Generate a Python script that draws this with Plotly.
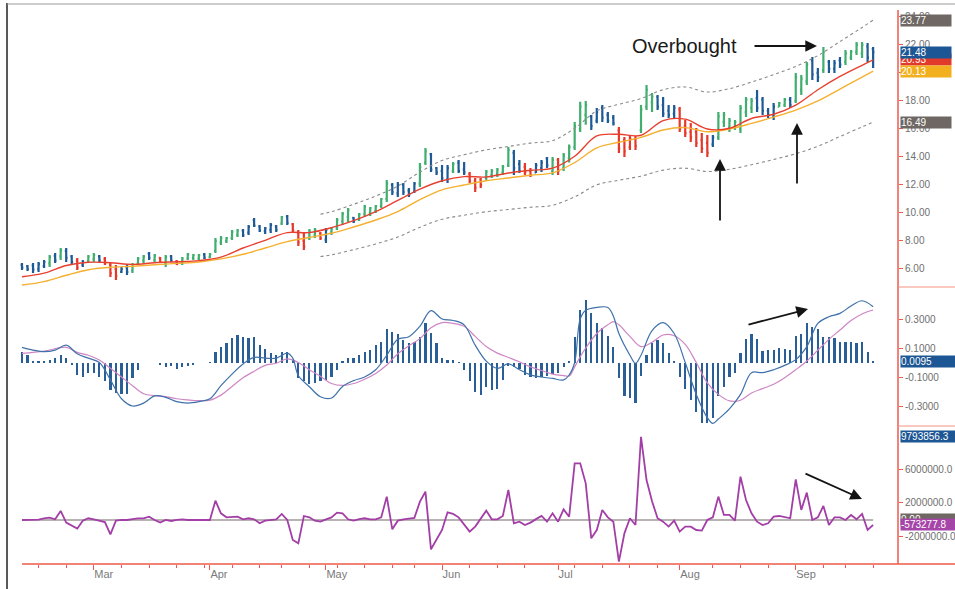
import plotly.graph_objects as go

W, H = 955, 589

# ---------------- data ----------------
month_labels = ["Mar", "Apr", "May", "Jun", "Jul", "Aug", "Sep"]
month_start_idx = [13, 34, 55, 76, 97, 119, 140]
week_start_idx = [3, 8, 18, 23, 28, 33, 38, 43, 47, 52, 57, 62, 67, 71, 81, 86, 91, 100,
                  105, 110, 115, 125, 130, 135, 145, 149, 154]

opens = [6.3, 6.2, 6.25, 6.0, 6.2, 6.4, 6.95, 6.9, 7.3, 6.9,
         6.6, 6.3, 6.55, 6.7, 6.9, 6.7, 6.3, 6.0, 5.8, 6.1,
         5.9, 6.4, 6.6, 7.1, 6.65, 6.8, 6.4, 6.9, 6.55, 6.4,
         6.75, 6.8, 6.75, 7.05, 6.85, 7.3, 7.9, 8.0, 8.2, 8.45,
         8.75, 8.6, 9.5, 9.05, 8.7, 8.8, 9.05, 9.25, 9.75, 9.2,
         8.6, 8.0, 8.2, 8.4, 8.55, 8.1, 8.6, 8.9, 9.4, 9.7,
         9.65, 9.5, 9.9, 10.0, 10.15, 10.5, 11.0, 12.0, 11.4, 12.0,
         11.6, 11.5, 12.1, 13.6, 14.2, 13.2, 13.0, 12.4, 13.0, 13.6,
         13.1, 12.8, 12.3, 12.4, 12.5, 12.7, 12.8, 12.9, 13.4, 14.3,
         13.5, 13.3, 13.0, 12.9, 13.2, 13.9, 13.0, 13.8, 13.2, 13.9,
         14.7, 16.0, 17.0, 16.9, 16.6, 17.5, 17.0, 16.8, 15.9, 15.2,
         14.7, 15.3, 15.9, 17.6, 17.9, 18.3, 17.7, 17.3, 17.1, 17.4,
         16.2, 15.8, 15.8, 15.2, 15.0, 14.9, 15.4, 16.5, 16.1, 16.1,
         16.0, 17.2, 17.5, 18.2, 18.1, 17.3, 16.9, 17.6, 17.7, 18.1,
         18.0, 18.8, 19.4, 20.9, 20.0, 20.2, 20.8, 20.3, 20.9, 20.8,
         21.1, 21.5, 21.4, 21.9, 21.7]
highs = [6.43, 6.29, 6.43, 6.5, 6.64, 7.0, 7.14, 7.5, 7.5, 7.0,
         6.79, 6.64, 7.0, 7.14, 7.0, 6.86, 6.43, 6.29, 6.14, 6.29,
         6.43, 6.86, 7.0, 7.21, 7.07, 6.86, 7.0, 7.0, 6.64, 6.86,
         7.14, 7.07, 7.07, 7.14, 7.14, 8.21, 8.36, 8.29, 8.79, 8.86,
         8.86, 9.14, 9.64, 9.14, 9.0, 9.29, 9.14, 9.79, 9.86, 9.29,
         8.79, 8.64, 8.86, 8.93, 8.64, 8.93, 9.0, 9.64, 10.07, 10.36,
         9.71, 10.0, 10.57, 10.43, 10.57, 11.07, 12.36, 12.14, 12.21, 12.14,
         11.79, 12.21, 13.57, 14.64, 14.29, 13.29, 13.43, 13.43, 13.64, 13.79,
         13.64, 12.93, 12.5, 12.5, 13.07, 13.14, 13.21, 13.43, 14.71, 14.5,
         13.79, 13.57, 13.21, 13.57, 13.79, 14.0, 14.0, 13.93, 14.29, 14.9,
         16.5, 17.95, 18.0, 17.0, 17.5, 17.71, 17.21, 17.0, 16.14, 15.43,
         15.57, 15.5, 17.71, 19.14, 18.57, 18.43, 18.29, 17.71, 17.71, 17.57,
         16.64, 16.43, 16.07, 15.71, 15.57, 15.57, 17.21, 17.21, 16.79, 16.64,
         17.71, 18.29, 18.21, 18.79, 18.29, 17.5, 17.86, 17.93, 18.21, 18.29,
         20.0, 19.86, 20.79, 21.14, 20.36, 21.86, 20.93, 20.93, 21.14, 21.64,
         21.64, 22.21, 22.21, 22.14, 21.86]
lows = [5.93, 5.86, 5.71, 5.79, 6.07, 6.14, 6.43, 6.64, 6.5, 6.29,
        5.93, 6.14, 6.43, 6.5, 6.5, 6.29, 5.43, 5.21, 5.71, 5.57,
        5.71, 6.29, 6.43, 6.64, 6.5, 6.43, 6.14, 6.5, 6.29, 6.29,
        6.64, 6.64, 6.64, 6.71, 6.79, 7.14, 7.71, 7.86, 8.07, 8.29,
        8.29, 8.43, 9.0, 8.64, 8.5, 8.57, 8.64, 9.14, 9.14, 8.64,
        7.64, 7.36, 8.07, 8.21, 8.07, 7.86, 8.43, 8.79, 9.14, 9.36,
        9.29, 9.43, 9.71, 9.79, 10.0, 10.36, 10.79, 11.29, 11.14, 11.29,
        11.14, 11.43, 11.86, 13.43, 12.93, 12.71, 12.21, 12.14, 12.86, 12.86,
        12.71, 12.14, 11.5, 11.79, 12.36, 12.5, 12.57, 12.71, 13.29, 12.71,
        12.86, 12.71, 12.57, 12.86, 12.93, 13.21, 12.71, 12.71, 13.0, 13.6,
        14.5, 15.79, 16.3, 15.93, 16.4, 16.5, 16.43, 16.25, 14.29, 14.0,
        14.5, 14.5, 15.71, 17.36, 17.21, 17.36, 16.86, 16.79, 16.79, 15.79,
        15.43, 15.07, 14.71, 14.29, 14.0, 14.71, 15.21, 16.14, 15.79, 15.93,
        15.71, 16.86, 17.14, 17.21, 17.0, 16.79, 16.64, 17.57, 17.57, 17.5,
        17.86, 18.43, 19.14, 19.5, 19.36, 20.0, 20.0, 20.0, 20.36, 20.57,
        20.93, 21.29, 21.07, 20.79, 20.36]
closes = [6.1, 6.0, 5.95, 6.35, 6.5, 6.85, 6.6, 7.35, 6.8, 6.5,
          6.1, 6.5, 6.9, 7.0, 6.6, 6.4, 5.7, 5.5, 6.0, 5.8,
          6.3, 6.75, 6.9, 6.8, 6.95, 6.5, 6.85, 6.6, 6.35, 6.75,
          7.05, 7.0, 7.0, 6.8, 7.05, 8.0, 8.2, 8.2, 8.65, 8.75,
          8.4, 9.0, 9.1, 8.75, 8.9, 9.15, 8.8, 9.7, 9.3, 8.75,
          7.9, 7.6, 8.7, 8.8, 8.2, 8.8, 8.9, 9.5, 9.95, 10.2,
          9.4, 9.9, 10.45, 10.35, 10.5, 11.0, 12.1, 11.5, 12.0, 11.5,
          11.3, 12.1, 13.3, 14.4, 13.1, 12.9, 12.5, 13.2, 13.5, 13.0,
          12.9, 12.3, 11.8, 12.0, 12.95, 13.0, 13.1, 13.3, 14.5, 13.2,
          13.0, 12.9, 12.7, 13.4, 13.6, 13.4, 13.8, 13.0, 14.1, 14.7,
          16.2, 17.6, 17.7, 16.2, 17.2, 16.8, 16.6, 16.4, 14.6, 14.4,
          15.3, 14.8, 17.4, 18.8, 18.3, 17.6, 17.1, 17.0, 17.5, 16.0,
          15.7, 15.4, 15.0, 14.6, 14.3, 15.4, 16.9, 17.0, 16.6, 16.5,
          17.5, 18.1, 18.0, 17.5, 17.3, 17.0, 17.6, 17.85, 18.1, 17.7,
          19.7, 19.6, 20.6, 19.9, 19.7, 21.5, 20.3, 20.7, 20.6, 21.4,
          21.5, 22.0, 22.0, 21.1, 21.48]
# impulse state of each bar: 1 = bullish, 0 = neutral, -1 = bearish
impulse = [0, 0, 0, 0, 0, 1, 0, 1, 0, 0,
           -1, 0, 1, 1, 0, -1, -1, -1, 0, 0,
           1, 1, 1, 0, 1, -1, 1, 0, -1, 1,
           1, 1, 1, 0, 1, 1, 1, 1, 1, 1,
           0, 0, 0, 0, 0, 0, 0, 1, 0, -1,
           -1, -1, 1, 1, -1, 0, 1, 1, 1, 1,
           0, 1, 1, 1, 1, 1, 1, 0, 0, 0,
           0, 0, 1, 1, 0, 0, 0, 0, 1, 0,
           0, -1, -1, -1, 1, 1, 1, 1, 1, 0,
           0, -1, -1, 0, 0, 0, 1, -1, 1, 1,
           1, 1, 1, 0, 0, 0, 0, 0, -1, -1,
           -1, -1, 1, 1, 1, 0, 0, 0, 0, -1,
           -1, -1, -1, -1, -1, 0, 1, 1, 1, 1,
           1, 1, 1, 0, 0, 0, 0, 1, 1, 0,
           1, 1, 1, 0, 0, 1, 0, 0, 0, 1,
           1, 1, 1, 0, 0]

ema_idx = [0, 4, 8, 12, 16, 20, 24, 28, 32, 36, 40, 44, 48, 52, 56, 60, 64, 68, 72, 76,
           80, 84, 88, 92, 96, 100, 104, 108, 112, 116, 120, 124, 128, 132, 136, 140,
           144, 148, 152, 154]
ema_fast = [5.45, 5.7, 6.25, 6.48, 6.45, 6.33, 6.45, 6.52, 6.6, 6.85, 7.5, 8.05, 8.6, 8.6,
            8.95, 9.45, 10.1, 10.9, 11.7, 12.3, 12.6, 12.57, 12.86, 13.05, 13.2, 14.05,
            15.5, 15.62, 15.55, 16.6, 16.7, 16.0, 16.05, 16.75, 17.05, 17.7, 18.8, 19.75,
            20.55, 20.93]
ema_slow = [4.86, 5.1, 5.55, 5.95, 6.12, 6.2, 6.3, 6.4, 6.5, 6.72, 7.05, 7.5, 7.95, 8.25,
            8.55, 9.0, 9.5, 10.1, 10.95, 11.65, 12.0, 12.3, 12.5, 12.7, 12.86, 13.6, 14.65,
            15.05, 15.4, 15.93, 16.1, 15.8, 16.0, 16.4, 16.85, 17.35, 18.0, 18.85, 19.7,
            20.13]

band_idx = [54, 56, 60, 64, 68, 72, 76, 80, 84, 88, 92, 96, 100, 104, 108, 112, 116, 120,
            124, 128, 132, 136, 140, 144, 148, 152, 154]
band_upper = [9.91, 10.09, 10.62, 11.21, 11.92, 12.92, 13.75, 14.16, 14.51, 14.75, 14.99,
              15.17, 16.05, 17.29, 17.76, 18.17, 18.8, 19.0, 18.64, 18.88, 19.35, 19.88,
              20.47, 21.24, 22.24, 23.25, 23.77]
band_lower = [6.89, 7.01, 7.38, 7.79, 8.28, 8.98, 9.55, 9.84, 10.09, 10.25, 10.41, 10.55,
              11.15, 12.01, 12.34, 12.63, 13.06, 13.2, 12.96, 13.12, 13.45, 13.82, 14.23,
              14.76, 15.46, 16.15, 16.49]

macd_hist = [0.075, 0.05, 0.01, 0.01, 0.01, 0.02, 0.03, 0.05, 0.03, -0.02,
             -0.085, -0.1, -0.075, -0.075, -0.1, -0.125, -0.19, -0.21, -0.22, -0.22,
             -0.11, -0.05, -0.006, -0.003, -0.003, -0.017, -0.03, -0.024, -0.047, -0.033,
             -0.024, -0.017, -0.006, -0.003, 0.006, 0.075, 0.105, 0.137, 0.167, 0.19,
             0.178, 0.171, 0.178, 0.12, 0.09, 0.063, 0.052, 0.075, 0.075, 0.017,
             -0.11, -0.13, -0.148, -0.144, -0.13, -0.12, -0.098, -0.05, 0.013, 0.03,
             0.033, 0.05, 0.075, 0.086, 0.12, 0.144, 0.229, 0.21, 0.196, 0.155,
             0.132, 0.144, 0.178, 0.27, 0.206, 0.132, 0.03, 0.02, 0.017, 0.005,
             -0.05, -0.13, -0.2, -0.224, -0.167, -0.19, -0.18, -0.12, -0.024, -0.033,
             -0.047, -0.086, -0.1, -0.11, -0.1, -0.095, -0.08, -0.075, -0.033, 0.01,
             0.178, 0.362, 0.43, 0.344, 0.27, 0.236, 0.183, 0.109, -0.11, -0.23,
             -0.247, -0.28, -0.093, 0.052, 0.132, 0.155, 0.132, 0.063, 0.013, -0.1,
             -0.18, -0.26, -0.34, -0.42, -0.42, -0.385, -0.23, -0.167, -0.098, -0.07,
             0.068, 0.16, 0.197, 0.16, 0.08, 0.086, 0.086, 0.098, 0.09, 0.086,
             0.183, 0.2, 0.27, 0.243, 0.229, 0.178, 0.174, 0.167, 0.144, 0.144,
             0.144, 0.132, 0.144, 0.075, 0.0095]

macd_idx = [0, 2, 4, 6, 8, 10, 12, 14, 16, 18, 20, 22, 24, 26, 28, 30, 32, 34, 36, 38,
            40, 42, 44, 46, 48, 49, 50, 52, 54, 56, 58, 60, 62, 64, 66, 68, 70, 72, 74, 76,
            78, 80, 82, 84, 86, 88, 90, 92, 94, 96, 98, 99, 100, 101, 102, 104, 106, 107,
            108, 110, 111, 112, 114, 116, 118, 120, 122, 124, 125, 126, 128, 130, 132,
            134, 136, 138, 140, 142, 144, 146, 148, 150, 152, 154]
macd_line = [0.105, 0.086, 0.075, 0.086, 0.12, 0.06, 0.03, 0.0, -0.12, -0.25,
             -0.3, -0.28, -0.23, -0.24, -0.27, -0.28, -0.27, -0.25, -0.16, -0.08,
             -0.01, 0.035, 0.03, 0.03, 0.065, 0.03, -0.09, -0.167, -0.236, -0.245,
             -0.165, -0.125, -0.1, -0.05, 0.05, 0.16, 0.178, 0.25, 0.358, 0.3,
             0.29, 0.26, 0.12, 0.01, -0.04, -0.01, -0.05, -0.085, -0.1, -0.11,
             -0.12, -0.086, 0.0, 0.3, 0.36, 0.38, 0.38, 0.32, 0.2, 0.05,
             -0.006, 0.05, 0.22, 0.275, 0.2, 0.0, -0.22, -0.38, -0.42, -0.39,
             -0.32, -0.22, -0.07, -0.07, -0.05, -0.02, 0.02, 0.11, 0.27, 0.316,
             0.339, 0.39, 0.426, 0.385]

signal_idx = [0, 4, 8, 10, 12, 14, 16, 18, 20, 22, 24, 26, 28, 30, 32, 34, 36, 38, 40,
              42, 44, 46, 48, 50, 52, 54, 56, 58, 60, 62, 64, 66, 68, 70, 72, 74, 76, 78,
              80, 82, 84, 86, 88, 90, 92, 94, 96, 98, 99, 100, 101, 102, 104, 106, 107,
              108, 110, 112, 114, 116, 118, 120, 122, 124, 126, 128, 130, 132, 134, 136,
              138, 140, 142, 144, 146, 148, 150, 152, 154]
signal_line = [0.063, 0.079, 0.105, 0.07, 0.05, 0.017, -0.04, -0.1, -0.16, -0.215,
               -0.228, -0.235, -0.25, -0.258, -0.263, -0.26, -0.225, -0.165, -0.105,
               -0.06, -0.02, -0.005, 0.025, 0.0, -0.05, -0.095, -0.145, -0.158, -0.145,
               -0.115, -0.075, -0.017, 0.06, 0.115, 0.165, 0.24, 0.275, 0.27, 0.25,
               0.18, 0.11, 0.065, 0.035, 0.005, -0.03, -0.055, -0.08, -0.09, -0.093,
               -0.03, 0.04, 0.1, 0.2, 0.26, 0.282, 0.26, 0.18, 0.11, 0.14, 0.19, 0.185,
               0.125, 0.0, -0.14, -0.22, -0.265, -0.26, -0.21, -0.18, -0.15, -0.105,
               -0.05, 0.01, 0.085, 0.16, 0.224, 0.29, 0.335, 0.362]

# force index, in millions
force_index = [0.0, 0.0, 0.0, 0.05, 0.2, 0.27, 0.08, 1.06, -0.31, -0.71,
               -1.02, -0.08, 0.2, 0.08, -0.08, -0.24, -1.69, -0.08, 0.0, 0.0,
               0.1, 0.2, 0.2, 0.39, 0.0, -0.31, 0.0, -0.12, 0.0, 0.08,
               0.0, 0.0, 0.0, 0.0, 0.0, 2.27, 0.78, 0.31, 0.35, 0.39,
               0.08, 0.2, 0.08, -0.39, -0.08, 0.0, 0.08, 0.71, 0.0, -2.35,
               -2.75, 0.47, 0.31, -0.08, -0.2, 0.08, 0.31, 0.86, 0.78, 0.08,
               -0.08, 0.1, 0.2, 0.08, 0.08, 0.31, 2.75, -1.1, -0.08, 0.08,
               0.15, 0.25, 2.16, 3.33, -3.45, -2.3, -1.18, 0.9, 0.71, 0.31,
               -0.59, -1.37, -0.78, 0.2, 1.1, 0.08, 0.08, 0.47, 3.53, -0.39,
               -0.2, -0.59, -0.31, 0.1, 0.47, -0.2, 0.78, -0.2, 1.25, 0.39,
               6.67, 6.67, 4.31, -2.16, -1.18, 1.18, 0.31, -0.2, -4.9, -1.57,
               0.2, -0.59, 9.79, 4.7, 2.2, 0.2, -0.2, -0.78, -0.08, -1.37,
               -0.78, -0.78, -1.18, -1.25, 0.0, 0.31, 2.75, 0.59, 0.59, -0.08,
               5.1, 2.35, 0.78, -0.2, -0.59, -0.39, 0.39, 0.47, 0.31, 0.2,
               4.78, 1.18, 3.22, 0.0, 0.31, 1.65, -0.59, 0.31, 0.31, 0.0,
               0.59, 0.08, 0.71, -1.18, -0.573]

price_ticks = [6, 8, 10, 12, 14, 16, 18, 20, 22, 24]
macd_ticks = [-0.3, -0.1, 0.1, 0.3]
force_ticks = [-2, 2, 6]
force_tick_text = ["-2000000.0", "2000000.0", "6000000.0"]

# ---------------- figure ----------------
FONT = "Liberation Sans, Arial, sans-serif"
GREEN, BLUE, RED = "#3fae6e", "#1e5a96", "#e5382b"
AXIS_RED = "#ee5a4c"

n = len(closes)
idx = list(range(n))


def px(x):
    return x / W


def py(y):
    return 1 - y / H


fig = go.Figure()

# price bars coloured by impulse state
for state, col in [(1, GREEN), (0, BLUE), (-1, RED)]:
    sel = [i for i in idx if impulse[i] == state]
    fig.add_trace(go.Ohlc(
        x=sel,
        open=[opens[i] for i in sel], high=[highs[i] for i in sel],
        low=[lows[i] for i in sel], close=[closes[i] for i in sel],
        increasing=dict(line=dict(color=col, width=2.2)),
        decreasing=dict(line=dict(color=col, width=2.2)),
        tickwidth=0.25, xaxis="x", yaxis="y", hoverinfo="skip"))

fig.add_trace(go.Scatter(x=band_idx, y=band_upper, mode="lines", yaxis="y",
                         line=dict(color="#8a8a8a", width=1.1, dash="dot", shape="spline")))
fig.add_trace(go.Scatter(x=band_idx, y=band_lower, mode="lines", yaxis="y",
                         line=dict(color="#8a8a8a", width=1.1, dash="dot", shape="spline")))
fig.add_trace(go.Scatter(x=ema_idx, y=ema_slow, mode="lines", yaxis="y",
                         line=dict(color="#f5b030", width=1.4, shape="spline")))
fig.add_trace(go.Scatter(x=ema_idx, y=ema_fast, mode="lines", yaxis="y",
                         line=dict(color="#e8402f", width=1.4, shape="spline")))

# MACD panel
fig.add_trace(go.Bar(x=idx, y=macd_hist, yaxis="y2", width=0.4,
                     marker=dict(color="#2a5e96", line=dict(width=0))))
fig.add_trace(go.Scatter(x=signal_idx, y=signal_line, mode="lines", yaxis="y2",
                         line=dict(color="#cf86c4", width=1.2, shape="spline")))
fig.add_trace(go.Scatter(x=macd_idx, y=macd_line, mode="lines", yaxis="y2",
                         line=dict(color="#3f72aa", width=1.2, shape="spline")))

# Force index panel
fig.add_trace(go.Scatter(x=idx, y=force_index, mode="lines", yaxis="y3",
                         line=dict(color="#a23ea6", width=1.8)))

y_price = [1 - 287 / H, 1 - 8 / H]
y_macd = [1 - 426 / H, 1 - 287 / H]
y_force = [1 - 564 / H, 1 - 426 / H]

axis_common = dict(side="right", anchor="x", showgrid=False, zeroline=False,
                   showline=False, ticks="outside", ticklen=4, tickwidth=1,
                   tickcolor=AXIS_RED, tickfont=dict(family=FONT, size=10, color="#6f6f6f"),
                   fixedrange=True)

fig.update_layout(
    width=W, height=H, margin=dict(l=0, r=0, t=0, b=0),
    paper_bgcolor="white", plot_bgcolor="white", showlegend=False,
    bargap=0, hovermode=False,
    xaxis=dict(domain=[8 / W, 898 / W], range=[-2.53, 158.5], anchor="y3",
               showgrid=False, zeroline=False, showline=False,
               rangeslider=dict(visible=False), fixedrange=True,
               tickmode="array", tickvals=month_start_idx, ticktext=month_labels,
               ticks="outside", ticklen=5, tickcolor=AXIS_RED,
               ticklabelposition="outside right",
               tickfont=dict(family=FONT, size=11, color="#7a7a7a"),
               minor=dict(tickvals=week_start_idx, ticks="outside", ticklen=3,
                          tickcolor=AXIS_RED)),
    yaxis=dict(domain=y_price, range=[4.714, 24.64], tickmode="array",
               tickvals=price_ticks, ticktext=[f"{v:.2f}" for v in price_ticks],
               **axis_common),
    yaxis2=dict(domain=y_macd, range=[-0.438, 0.521], tickmode="array",
                tickvals=macd_ticks, ticktext=[f"{v:.4f}" for v in macd_ticks],
                **axis_common),
    yaxis3=dict(domain=y_force, range=[-5.18, 11.06], tickmode="array",
                tickvals=force_ticks, ticktext=force_tick_text, **axis_common),
)

shapes = [
    # frame lines
    dict(type="line", xref="paper", yref="paper", x0=px(7), x1=px(7), y0=py(3), y1=py(589),
         line=dict(color="#222", width=1.5)),
    dict(type="line", xref="paper", yref="paper", x0=px(7), x1=1, y0=py(4), y1=py(4),
         line=dict(color="#9a9a9a", width=1.2)),
    dict(type="line", xref="paper", yref="paper", x0=px(898), x1=px(898), y0=py(10), y1=py(564),
         line=dict(color=AXIS_RED, width=1.5)),
    dict(type="line", xref="paper", yref="paper", x0=px(22), x1=1, y0=py(564), y1=py(564),
         line=dict(color=AXIS_RED, width=1.5)),
    dict(type="line", xref="paper", yref="paper", x0=px(898), x1=1, y0=py(287), y1=py(287),
         line=dict(color="#f3927f", width=1.2)),
    dict(type="line", xref="paper", yref="paper", x0=px(898), x1=1, y0=py(426), y1=py(426),
         line=dict(color="#f3927f", width=1.2)),
    # zero line of the force index
    dict(type="line", xref="x", yref="y3", x0=idx[0], x1=idx[-1], y0=0, y1=0,
         line=dict(color="#a09a98", width=1.5), layer="below"),
]
fig.update_layout(shapes=shapes)


def value_box(text, yval, yref, color, width=50):
    return dict(text=text, x=px(900), xref="paper", xanchor="left",
                y=yval, yref=yref, yanchor="middle", showarrow=False,
                bgcolor=color, font=dict(family=FONT, size=10, color="white"),
                width=width, height=11, align="left", borderpad=0)


def arrow(tail, tip):
    return dict(text="", x=px(tip[0]), y=py(tip[1]), xref="paper", yref="paper",
                ax=tail[0] - tip[0], ay=tail[1] - tip[1], axref="pixel", ayref="pixel",
                showarrow=True, arrowhead=2, arrowsize=1.3, arrowwidth=1.8,
                arrowcolor="#141414")


annotations = [
    value_box(f"{band_upper[-1]:.2f}", band_upper[-1], "y", "#6e6763"),
    value_box(f"{ema_fast[-1]:.2f}", ema_fast[-1], "y", "#e23a2a"),
    value_box(f"{closes[-1]:.2f}", closes[-1], "y", "#1d5694"),
    value_box(f"{ema_slow[-1]:.2f}", ema_slow[-1], "y", "#f2b01e"),
    value_box(f"{band_lower[-1]:.2f}", band_lower[-1], "y", "#6e6763"),
    value_box(f"{macd_hist[-1]:.4f}", macd_hist[-1], "y2", "#1d5694", width=56),
    value_box("9793856.3", max(force_index), "y3", "#1d5694", width=60),
    value_box("0.00", 0, "y3", "#6e6763", width=60),
    value_box("-573277.8", force_index[-1], "y3", "#a545a8", width=60),
    dict(text="Overbought", x=px(684), y=py(46), xref="paper", yref="paper",
         xanchor="center", yanchor="middle",
         showarrow=False, font=dict(family=FONT, size=20, color="#1a1a1a")),
    arrow((753, 46), (817, 46)),
    arrow((720, 222), (720, 159)),
    arrow((797, 185), (797, 123)),
    arrow((747, 325), (808, 309)),
    arrow((804, 473), (862, 499)),
]
fig.update_layout(annotations=annotations)

# the page body has a default 8px margin; remove it so the figure fills the window
fig.write_html("out.html",
               config={"displayModeBar": False, "staticPlot": True},
               post_script="document.body.style.margin='0px';document.body.style.overflow='hidden';")
